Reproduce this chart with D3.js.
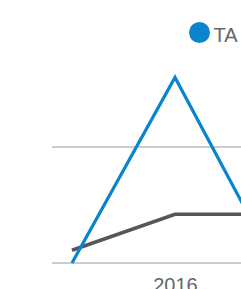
<!DOCTYPE html>
<html>
<head>
<meta charset="utf-8">
<script src="https://cdn.jsdelivr.net/npm/d3@7"></script>
<style>
  html, body { margin: 0; padding: 0; background: #fff; overflow: hidden; }
</style>
</head>
<body>
<div id="chart"></div>
<script>
// data
var years = ["2015", "2016", "2017"];
var shownYears = ["2016"];
var taValues = [0, 160, -6];
var otherValues = [11, 42, 42];
var gridValues = [0, 100];
var legendNames = ["TA"];

var WIDTH = 241, HEIGHT = 289;
var BLUE = "#0a84cf", DARK = "#55565a", GRID = "#cccccc", TEXT_COL = "#666666";
var FONT = "'Liberation Sans', Arial, sans-serif";

var svg = d3.select("#chart").append("svg")
    .attr("width", WIDTH)
    .attr("height", HEIGHT);

var scaleX = d3.scalePoint()
    .domain(years)
    .range([72, 278]);

var scaleY = d3.scaleLinear()
    .domain([0, 200])
    .range([263, 31]);

// gridlines
svg.append("g")
    .selectAll("line")
    .data(gridValues)
    .enter()
    .append("line")
    .attr("x1", 52)
    .attr("x2", WIDTH + 10)
    .attr("y1", function(d) { return scaleY(d); })
    .attr("y2", function(d) { return scaleY(d); })
    .style("stroke", GRID)
    .style("stroke-width", 2);

// x axis, only some labels shown
var xAxis = d3.axisBottom(scaleX)
    .tickValues(shownYears)
    .tickSize(0)
    .tickPadding(0);

var gx = svg.append("g")
    .attr("transform", "translate(0," + scaleY(0) + ")")
    .call(xAxis);
gx.select(".domain").remove();
gx.selectAll("text")
    .attr("dy", null)
    .attr("y", 28.5)
    .style("fill", TEXT_COL)
    .style("font-family", FONT)
    .style("font-size", "20px");

var line = d3.line()
    .x(function(d, i) { return scaleX(years[i]); })
    .y(function(d) { return scaleY(d); });

svg.append("path")
    .datum(otherValues)
    .attr("d", line)
    .style("fill", "none")
    .style("stroke", DARK)
    .style("stroke-width", 3.5);

svg.append("path")
    .datum(taValues)
    .attr("d", line)
    .style("fill", "none")
    .style("stroke", BLUE)
    .style("stroke-width", 3.2)
    .style("stroke-linejoin", "miter");

// legend
var legend = svg.append("g")
    .attr("transform", "translate(199.5,32.5)");

legend.selectAll("circle")
    .data(legendNames)
    .enter()
    .append("circle")
    .attr("r", 10.5)
    .style("fill", BLUE);

legend.selectAll("text")
    .data(legendNames)
    .enter()
    .append("text")
    .attr("x", 14)
    .attr("y", 9)
    .text(function(d) { return d; })
    .style("fill", TEXT_COL)
    .style("font-family", FONT)
    .style("font-size", "20px");
</script>
</body>
</html>
